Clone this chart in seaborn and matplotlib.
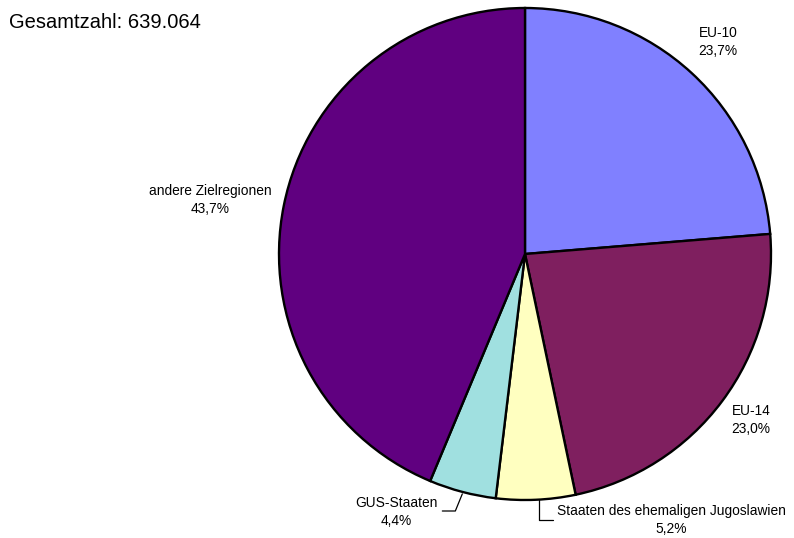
import numpy as np
import matplotlib
matplotlib.use("Agg")
import matplotlib.pyplot as plt
import seaborn as sns

sns.set_style("white")
plt.rcParams['font.family'] = ['Liberation Sans', 'DejaVu Sans']

categories = ["EU-10", "EU-14", "Staaten des ehemaligen Jugoslawien", "GUS-Staaten", "andere Zielregionen"]
values = [23.7, 23.0, 5.2, 4.4, 43.7]
pct_labels = ["23,7%", "23,0%", "5,2%", "4,4%", "43,7%"]
colors = ["#8080FF", "#7F1F5F", "#FFFFC0", "#A0E0E0", "#600080"]
title = "Gesamtzahl: 639.064"

W, H = 794, 538
fig = plt.figure(figsize=(W / 100, H / 100), dpi=100)
ax = fig.add_axes([0, 0, 1, 1])

cx, cy, r = 525, H - 254, 246
wedges, _ = ax.pie(values, colors=colors, startangle=90, counterclock=False,
                   center=(cx, cy), radius=r, frame=True,
                   wedgeprops=dict(edgecolor="black", linewidth=1.7))
ax.set_xlim(0, W)
ax.set_ylim(0, H)
ax.set_aspect("equal")
ax.axis("off")

fs = 9.9
# label positions (pixel coords, y from top)
label_pos = {
    0: (718, 42),
    1: (751, 420),
    2: (671, 520),
    3: (396, 512),
    4: (210, 200),
}
for i, (x, y) in label_pos.items():
    ax.text(x, H - y, f"{categories[i]}\n{pct_labels[i]}", ha="center", va="center",
            fontsize=fs, linespacing=1.45, color="black")

def edge_point(w):
    ang = np.deg2rad((w.theta1 + w.theta2) / 2)
    return cx + r * np.cos(ang), cy + r * np.sin(ang)

# Jugoslawien leader
x0, y0 = edge_point(wedges[2])
ax.plot([x0 + 3, x0 + 3, x0 + 17], [y0, H - 520, H - 520], color="black", lw=0.9)
# GUS leader
x0, y0 = edge_point(wedges[3])
ax.plot([x0, x0 - 7, x0 - 20], [y0 - 2, H - 511, H - 511], color="black", lw=0.9)

ax.text(9, H - 22, title, ha="left", va="center", fontsize=14.5, color="black")

fig.savefig("out.png", dpi=100)
